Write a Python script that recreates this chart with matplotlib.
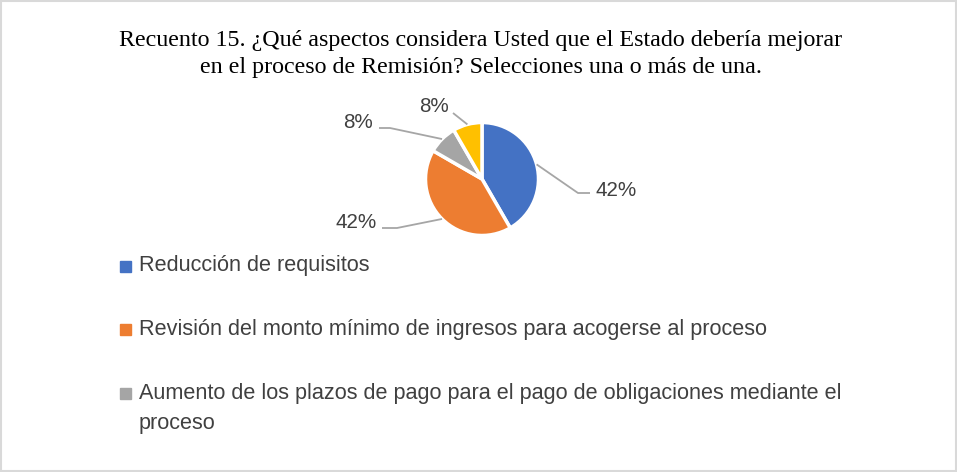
import numpy as np
import matplotlib
matplotlib.use("Agg")
from matplotlib import pyplot as plt
import matplotlib.patches as mpatches

# data
categorias = ['Reducción de requisitos',
              'Revisión del monto mínimo de ingresos para acogerse al proceso',
              'Aumento de los plazos de pago para el pago de obligaciones mediante el\nproceso',
              'Otros']
respuestas = [5, 5, 1, 1]
colores = ['#4472C4', '#ED7D31', '#A5A5A5', '#FFC000']
titulo = ('Recuento 15. ¿Qué aspectos considera Usted que el Estado debería mejorar\n'
          'en el proceso de Remisión? Selecciones una o más de una.')

W, H = 957, 472
fig = plt.figure(figsize=(W / 100, H / 100), dpi=100)
ax = fig.add_axes([0, 0, 1, 1])

# outer frame
ax.add_patch(mpatches.Rectangle((1, 1), W - 2, H - 2, fill=False, edgecolor='#D9D9D9', lw=1.5))

fig.text(481 / W, 1 - 54 / H, titulo, ha='center', va='center', fontsize=17.3,
         family='Liberation Serif', linespacing=1.32, color='black')

cx, cy, r = 482, H - 179, 56.5
wedges, _ = ax.pie(respuestas, colors=colores, startangle=90, counterclock=False,
                   center=(cx, cy), radius=r, frame=True,
                   wedgeprops=dict(edgecolor='white', linewidth=2.5))
ax.set_xlim(0, W)
ax.set_ylim(0, H)
ax.set_aspect('equal')
ax.axis('off')

# percentage labels with leader lines (offsets from the pie centre, px)
total = sum(respuestas)
codos = [(96, -14), (-85, -49), (-92, 51), (-29, 66)]
fin_x = [108, -100, -103, -29]
etq = [(113, -11, 'left'), (-105, -44, 'right'), (-109, 56, 'right'), (-48, 72, 'center')]
for w, v, (ex, ey), fx, (dx, dy, ha) in zip(wedges, respuestas, codos, fin_x, etq):
    ang = np.deg2rad((w.theta1 + w.theta2) / 2)
    p0 = (cx + r * np.cos(ang), cy + r * np.sin(ang))
    ax.plot([p0[0], cx + ex, cx + fx], [p0[1], cy + ey, cy + ey],
            color='#A6A6A6', lw=1.3, solid_capstyle='butt')
    ax.text(cx + dx, cy + dy, '{:.0f}%'.format(100 * v / total), ha=ha, va='center',
            fontsize=14.9, color='#404040', family='Liberation Sans')

# legend (only the first three entries are visible in the original)
ley_y = [266, 329, 393]
for cat, col, y in zip(categorias[:3], colores[:3], ley_y):
    ax.add_patch(mpatches.Rectangle((120, H - y - 5.5), 11, 11, color=col))
    for k, linea in enumerate(cat.split('\n')):
        ax.text(139, H - y - 30 * k, linea, ha='left', va='center',
                fontsize=15.6, color='#404040', family='Liberation Sans')

fig.savefig('out.png', dpi=100)
